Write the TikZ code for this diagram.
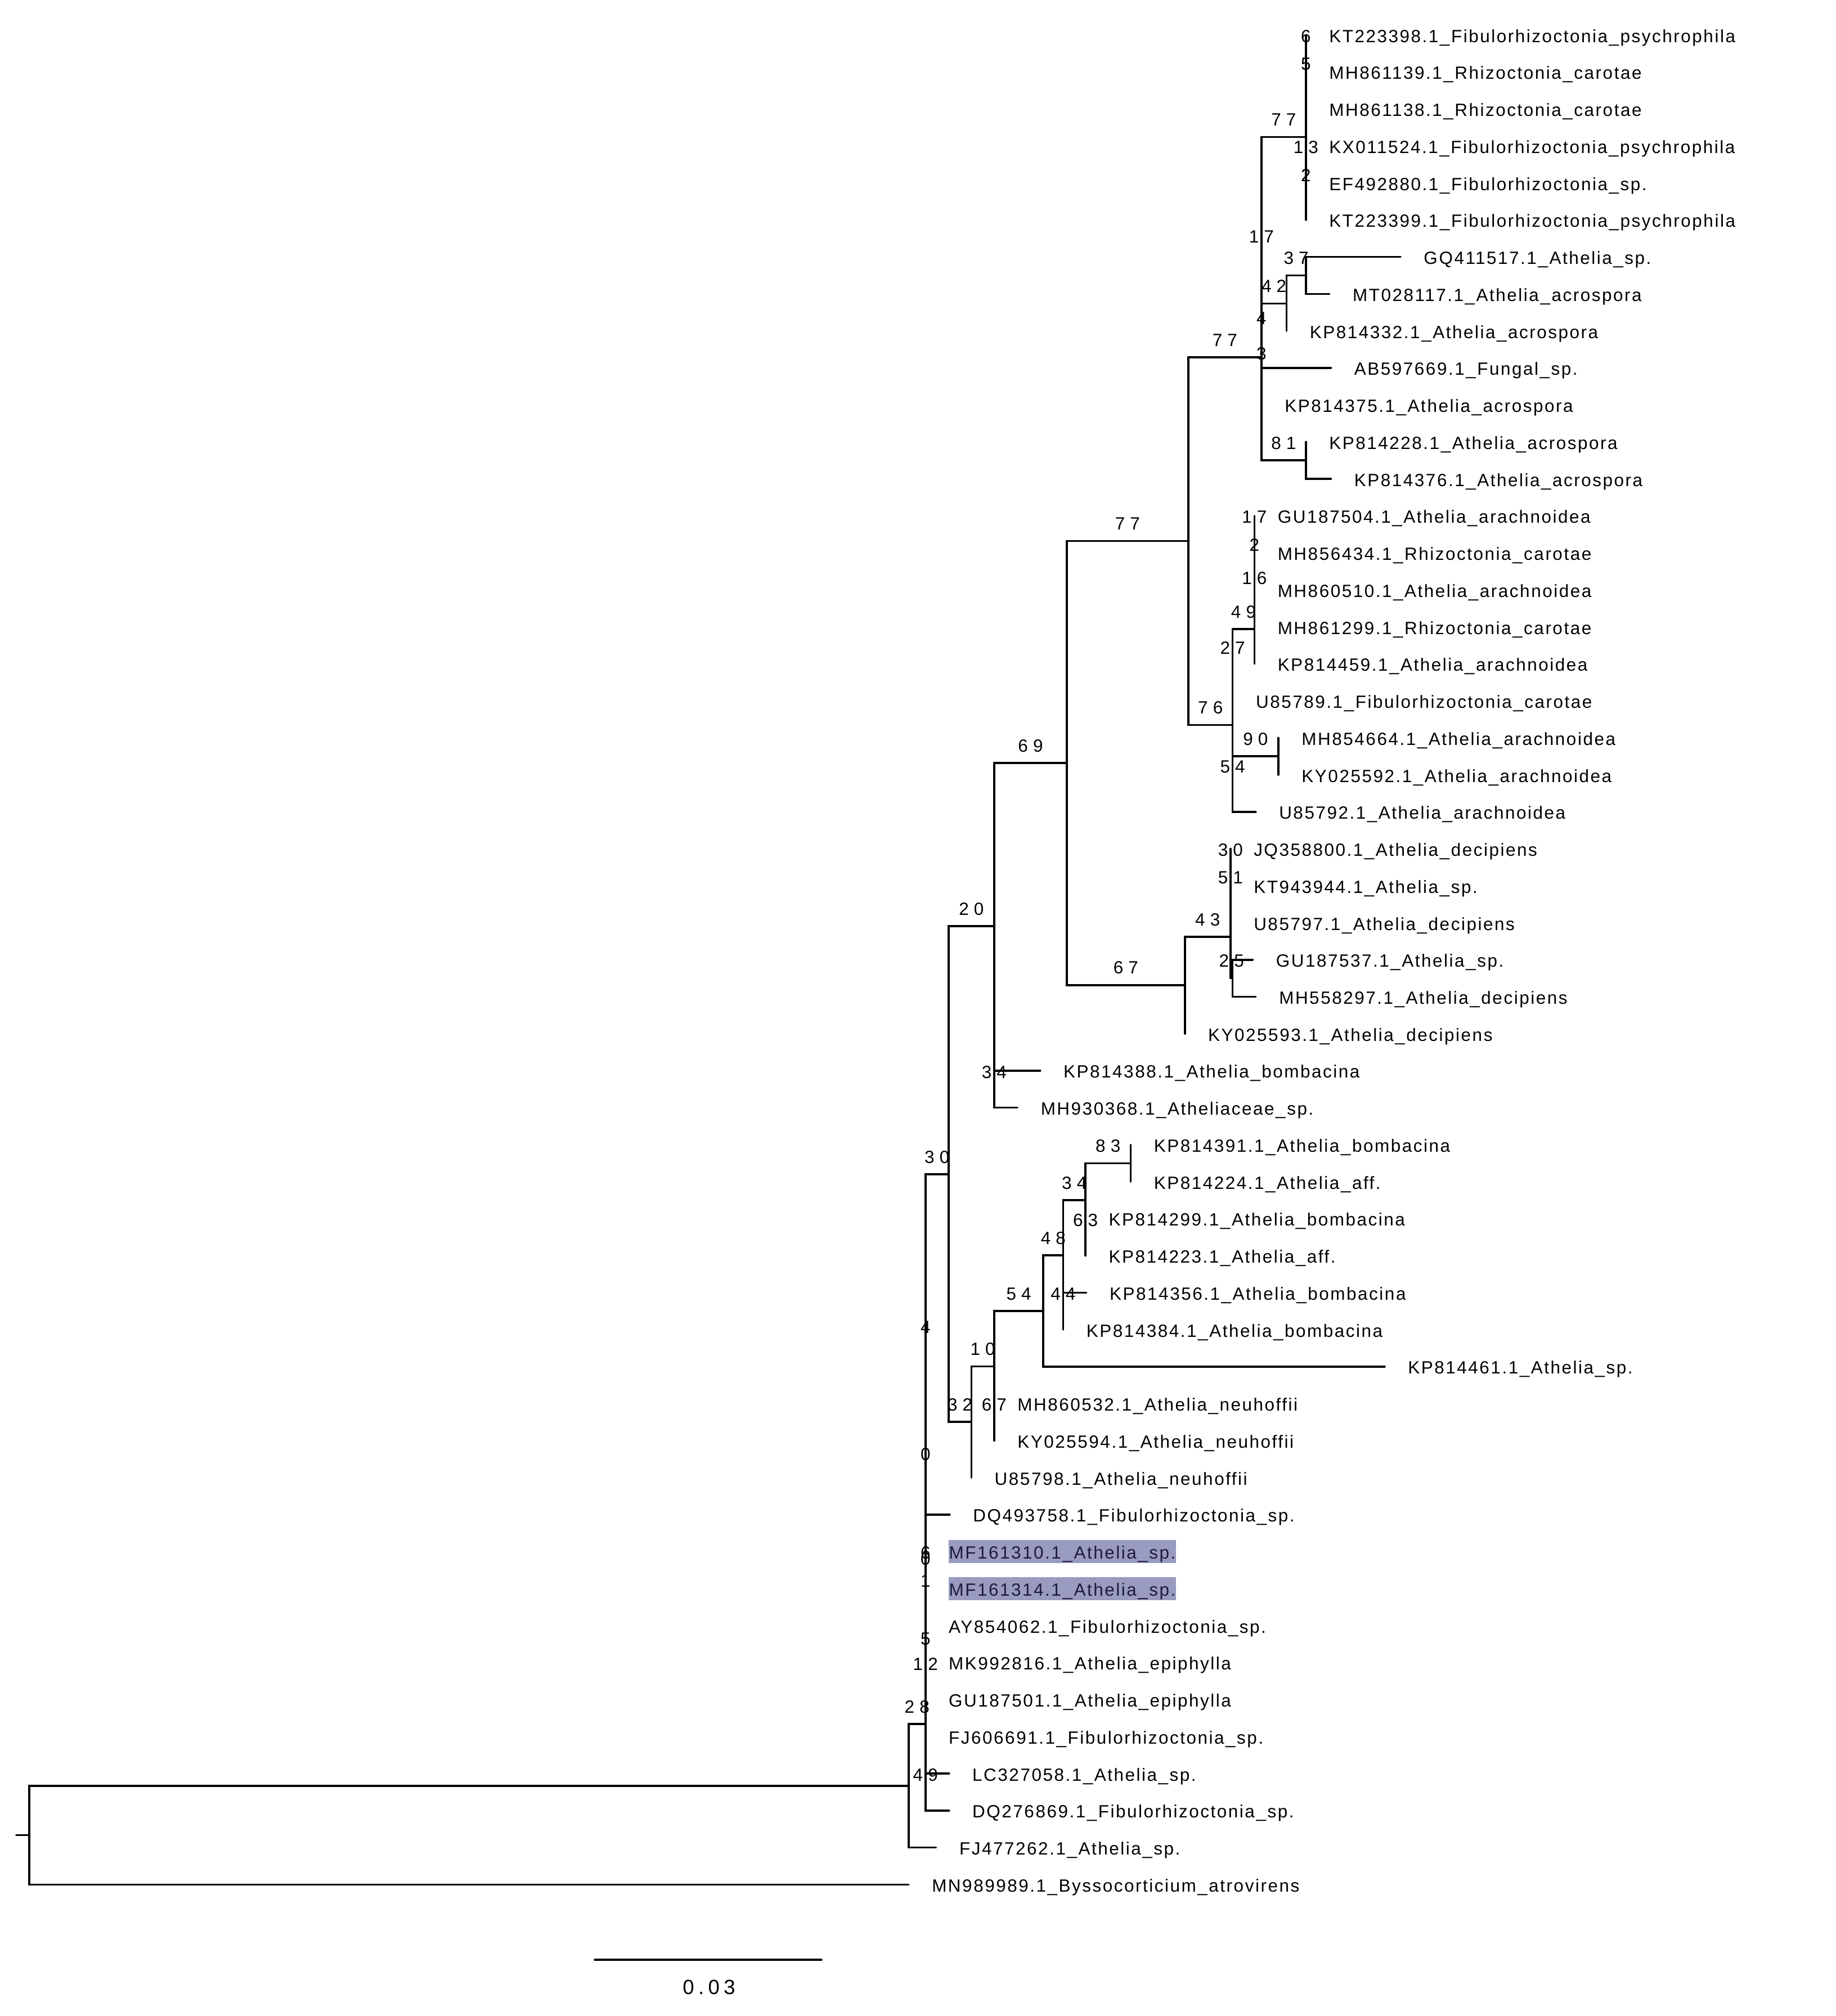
\documentclass[tikz,border=0pt]{standalone}
\usepackage{fontspec}
\setmainfont{Liberation Sans}
\newfontfamily\leaffont[LetterSpace=8,Ligatures=NoCommon]{Liberation Sans}
\newfontfamily\numfont[LetterSpace=29]{Liberation Sans}
\newfontfamily\barfont[LetterSpace=20]{Liberation Sans}
\usetikzlibrary{calc}
\definecolor{hl}{RGB}{154,155,192}
\definecolor{hltext}{RGB}{28,28,60}
\tikzset{
  br/.style={line width=2.2pt, line cap=round},
  leaf/.style={font={\leaffont\fontsize{19.6pt}{20pt}\selectfont}, inner sep=0pt, anchor=base west},
  hlbox/.style={fill=hl, text=hltext, inner xsep=0.02cm, inner ysep=0pt, text height=0.73cm, text depth=0.165cm},
  nl/.style={font={\numfont\fontsize{19.6pt}{20pt}\selectfont}, inner sep=0pt, anchor=center},
  barlab/.style={font={\barfont\fontsize{22.8pt}{24pt}\selectfont}, inner sep=0pt, anchor=center}
}
\newcommand\leaf[3]{\coordinate (t#1) at (#2,{27.2+(#1-1)*28.78});
  \node[leaf] (lf#1) at ($(t#1)+(18,5.7)$) {#3};}
\newcommand\hleaf[3]{\coordinate (t#1) at (#2,{27.2+(#1-1)*28.78});
  \node[leaf,hlbox] (lf#1) at ($(t#1)+(17.8,5.7)$) {#3};}
\newcommand\blab[3]{\path let \p1=(#1), \p2=(#2) in node[nl] (L#2) at ({0.5*\x1+0.5*\x2},{\y2+0.67cm}) {#3};}
\begin{document}
\begin{tikzpicture}[x=0.05cm,y=-0.05cm]
\useasboundingbox[fill=white] (0,0) rectangle (1428,1568.5);
% leaves
\leaf{1}{1016}{KT223398.1\_Fibulorhizoctonia\_psychrophila}
\leaf{2}{1016}{MH861139.1\_Rhizoctonia\_carotae}
\leaf{3}{1016}{MH861138.1\_Rhizoctonia\_carotae}
\leaf{4}{1016}{KX011524.1\_Fibulorhizoctonia\_psychrophila}
\leaf{5}{1016}{EF492880.1\_Fibulorhizoctonia\_sp.}
\leaf{6}{1016}{KT223399.1\_Fibulorhizoctonia\_psychrophila}
\leaf{7}{1089.6}{GQ411517.1\_Athelia\_sp.}
\leaf{8}{1034.3}{MT028117.1\_Athelia\_acrospora}
\leaf{9}{1000.9}{KP814332.1\_Athelia\_acrospora}
\leaf{10}{1035.5}{AB597669.1\_Fungal\_sp.}
\leaf{11}{981.4}{KP814375.1\_Athelia\_acrospora}
\leaf{12}{1016}{KP814228.1\_Athelia\_acrospora}
\leaf{13}{1035.5}{KP814376.1\_Athelia\_acrospora}
\leaf{14}{975.9}{GU187504.1\_Athelia\_arachnoidea}
\leaf{15}{975.9}{MH856434.1\_Rhizoctonia\_carotae}
\leaf{16}{975.9}{MH860510.1\_Athelia\_arachnoidea}
\leaf{17}{975.9}{MH861299.1\_Rhizoctonia\_carotae}
\leaf{18}{975.9}{KP814459.1\_Athelia\_arachnoidea}
\leaf{19}{959}{U85789.1\_Fibulorhizoctonia\_carotae}
\leaf{20}{994.6}{MH854664.1\_Athelia\_arachnoidea}
\leaf{21}{994.6}{KY025592.1\_Athelia\_arachnoidea}
\leaf{22}{977}{U85792.1\_Athelia\_arachnoidea}
\leaf{23}{957.3}{JQ358800.1\_Athelia\_decipiens}
\leaf{24}{957.3}{KT943944.1\_Athelia\_sp.}
\leaf{25}{957.3}{U85797.1\_Athelia\_decipiens}
\leaf{26}{974.6}{GU187537.1\_Athelia\_sp.}
\leaf{27}{977}{MH558297.1\_Athelia\_decipiens}
\leaf{28}{921.8}{KY025593.1\_Athelia\_decipiens}
\leaf{29}{809.3}{KP814388.1\_Athelia\_bombacina}
\leaf{30}{791.6}{MH930368.1\_Atheliaceae\_sp.}
\leaf{31}{879.6}{KP814391.1\_Athelia\_bombacina}
\leaf{32}{879.6}{KP814224.1\_Athelia\_aff.}
\leaf{33}{844.5}{KP814299.1\_Athelia\_bombacina}
\leaf{34}{844.5}{KP814223.1\_Athelia\_aff.}
\leaf{35}{845.2}{KP814356.1\_Athelia\_bombacina}
\leaf{36}{827.1}{KP814384.1\_Athelia\_bombacina}
\leaf{37}{1077.3}{KP814461.1\_Athelia\_sp.}
\leaf{38}{773.5}{MH860532.1\_Athelia\_neuhoffii}
\leaf{39}{773.5}{KY025594.1\_Athelia\_neuhoffii}
\leaf{40}{755.7}{U85798.1\_Athelia\_neuhoffii}
\leaf{41}{738.9}{DQ493758.1\_Fibulorhizoctonia\_sp.}
\hleaf{42}{720}{MF161310.1\_Athelia\_sp.}
\hleaf{43}{720}{MF161314.1\_Athelia\_sp.}
\leaf{44}{720}{AY854062.1\_Fibulorhizoctonia\_sp.}
\leaf{45}{720}{MK992816.1\_Athelia\_epiphylla}
\leaf{46}{720}{GU187501.1\_Athelia\_epiphylla}
\leaf{47}{720}{FJ606691.1\_Fibulorhizoctonia\_sp.}
\leaf{48}{738.4}{LC327058.1\_Athelia\_sp.}
\leaf{49}{738.4}{DQ276869.1\_Fibulorhizoctonia\_sp.}
\leaf{50}{728.3}{FJ477262.1\_Athelia\_sp.}
\leaf{51}{706.9}{MN989989.1\_Byssocorticium\_atrovirens}
% internal nodes
\coordinate (root) at (22.8,1427.8);
\coordinate (stub) at (12.6,1427.8);
\coordinate (A) at (706.9,1389.4);
\coordinate (B) at (720,1341.4);
\coordinate (c5) at (720,1288.7);
\coordinate (c49) at (720,1394.3);
\coordinate (c0b) at (720,1226.4);
\coordinate (c12) at (720,1307.9);
\coordinate (c0) at (720,1144.8);
\coordinate (c1) at (720,1243.2);
\coordinate (c6) at (720,1221.6);
\coordinate (c4) at (720,1046);
\coordinate (C) at (738,913.5);
\coordinate (D) at (755.7,1106.3);
\coordinate (c10) at (773.5,1063.1);
\coordinate (c67b) at (773.5,1106.5);
\coordinate (c54) at (811.7,1020);
\coordinate (c48) at (827.1,976.7);
\coordinate (c44) at (827.1,1020.1);
\coordinate (c34b) at (844.5,933.8);
\coordinate (c83) at (879.6,905);
\coordinate (c63) at (844.5,962.6);
\coordinate (c20) at (773.5,720.6);
\coordinate (c34a) at (773.5,847.5);
\coordinate (c69) at (830,593.7);
\coordinate (c67) at (921.8,766.4);
\coordinate (c43) at (957.3,728.8);
\coordinate (c51) at (957.3,696.4);
\coordinate (c30d) at (957.3,674.8);
\coordinate (c25) at (959,761.1);
\coordinate (c77m) at (924.5,421);
\coordinate (c76) at (959,564.1);
\coordinate (c27) at (959,517.3);
\coordinate (c49b) at (975.9,489.4);
\coordinate (c16) at (975.9,463.1);
\coordinate (c2b) at (975.9,437.3);
\coordinate (c17b) at (975.9,415.7);
\coordinate (c54b) at (959,610.2);
\coordinate (c90) at (994.6,588.4);
\coordinate (c77b) at (981.4,277.9);
\coordinate (c81) at (1016,358.2);
\coordinate (c17) at (981.4,197.5);
\coordinate (c3) at (981.4,288.6);
\coordinate (c4b) at (981.4,261.2);
\coordinate (c42) at (1000.9,236.2);
\coordinate (c37) at (1016,214.3);
\coordinate (c77t) at (1016,106.5);
\coordinate (c5t) at (1016,63.2);
\coordinate (c6t) at (1016,41.6);
\coordinate (c2t) at (1016,149.7);
\coordinate (c13) at (1016,127.9);
% branches
\draw[br] (stub) -- (root);
\foreach \p/\c in {root/A, root/t51, A/B, A/t50, B/c5, B/c49, c49/t48, c49/t49,
  c5/c0b, c5/t47, c0b/c0, c0b/c12, c12/t45, c12/t46, c0/c4, c0/c1, c1/c6, c1/t44,
  c6/t42, c6/t43, c4/C, c4/t41, C/c20, C/D, D/c10, D/t40, c10/c54, c10/c67b,
  c67b/t38, c67b/t39, c54/c48, c54/t37, c48/c34b, c48/c44, c44/t35, c44/t36,
  c34b/c83, c34b/c63, c83/t31, c83/t32, c63/t33, c63/t34, c20/c69, c20/c34a,
  c34a/t29, c34a/t30, c69/c77m, c69/c67, c67/c43, c67/t28, c43/c51, c43/c25,
  c51/c30d, c51/t25, c30d/t23, c30d/t24, c25/t26, c25/t27, c77m/c77b, c77m/c76,
  c76/c27, c76/c54b, c27/c49b, c27/t19, c49b/c16, c49b/t18, c16/c2b, c16/t17,
  c2b/c17b, c2b/t16, c17b/t14, c17b/t15, c54b/c90, c54b/t22, c90/t20, c90/t21,
  c77b/c17, c77b/c81, c81/t12, c81/t13, c17/c77t, c17/c3, c3/c4b, c3/t11,
  c4b/c42, c4b/t10, c42/c37, c42/t9, c37/t7, c37/t8, c77t/c5t, c77t/c2t,
  c5t/c6t, c5t/t3, c6t/t1, c6t/t2, c2t/c13, c2t/t6, c13/t4, c13/t5}
  {\draw[br] (\p) |- (\c);}
% node labels
\blab{A}{B}{28}
\blab{B}{c5}{5}
\blab{B}{c49}{49}
\blab{c5}{c0b}{0}
\blab{c0b}{c12}{12}
\blab{c0b}{c0}{0}
\blab{c0}{c1}{1}
\blab{c1}{c6}{6}
\blab{c0}{c4}{4}
\blab{c4}{C}{30}
\blab{C}{D}{32}
\blab{D}{c10}{10}
\blab{c10}{c67b}{67}
\blab{c10}{c54}{54}
\blab{c54}{c48}{48}
\blab{c48}{c44}{44}
\blab{c48}{c34b}{34}
\blab{c34b}{c83}{83}
\blab{c34b}{c63}{63}
\blab{C}{c20}{20}
\blab{c20}{c34a}{34}
\blab{c20}{c69}{69}
\blab{c69}{c67}{67}
\blab{c67}{c43}{43}
\blab{c43}{c51}{51}
\blab{c51}{c30d}{30}
\blab{c43}{c25}{25}
\blab{c69}{c77m}{77}
\blab{c77m}{c76}{76}
\blab{c76}{c27}{27}
\blab{c27}{c49b}{49}
\blab{c49b}{c16}{16}
\blab{c16}{c2b}{2}
\blab{c2b}{c17b}{17}
\blab{c76}{c54b}{54}
\blab{c54b}{c90}{90}
\blab{c77m}{c77b}{77}
\blab{c77b}{c81}{81}
\blab{c77b}{c17}{17}
\blab{c17}{c3}{3}
\blab{c3}{c4b}{4}
\blab{c4b}{c42}{42}
\blab{c42}{c37}{37}
\blab{c17}{c77t}{77}
\blab{c77t}{c5t}{5}
\blab{c5t}{c6t}{6}
\blab{c77t}{c2t}{2}
\blab{c2t}{c13}{13}
% scale bar
\coordinate (sb1) at (462.8,1524.9);
\coordinate (sb2) at (639,1524.9);
\draw[line width=2.5pt, line cap=round] (sb1) -- (sb2);
\node[barlab] (sblab) at (551.6,1546.1) {0.03};
\end{tikzpicture}
\end{document}
